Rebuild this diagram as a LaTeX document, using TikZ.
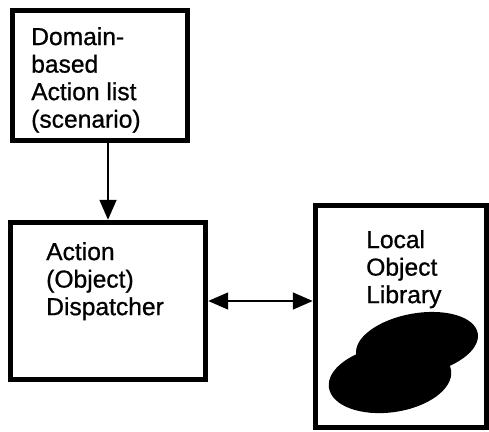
\documentclass[tikz,border=0pt]{standalone}
\usepackage{fontspec}
\setmainfont{Liberation Sans}[FakeBold=0.8]
\usetikzlibrary{arrows.meta}
\begin{document}
\begin{tikzpicture}[x=0.03cm, y=-0.03cm,
        box/.style={draw, line width=0.16cm, inner sep=0pt},
        txt/.style={anchor=north west, align=left, inner sep=0pt, font=\fontsize{21}{23.5}\selectfont},
        link/.style={line width=0.075cm, -{Triangle[length=0.6cm, width=0.5cm]}}]
        \useasboundingbox (0,0) rectangle (489,432);
        % scenario, dispatcher and object library
        \node[box, minimum width=5.25cm, minimum height=3.9cm] (scen) at (100,75.5) {};
        \node[txt] (scentxt) at (31,27) {Domain-\\based\\Action list\\(scenario)};
        \node[box, minimum width=5.85cm, minimum height=4.71cm] (disp) at (108,301) {};
        \node[txt] (disptxt) at (46,242) {Action\\(Object)\\Dispatcher};
        \node[box, minimum width=5.13cm, minimum height=6.66cm] (lib) at (401,316.5) {};
        \node[txt] (libtxt) at (366,230) {Local\\Object\\Library};
        % objects kept in the library
        \fill[rotate around={10:(417,344)}] (417,344) ellipse [x radius=1.85cm, y radius=0.92cm];
        \fill[rotate around={8:(390,379)}] (390,379) ellipse [x radius=1.85cm, y radius=1.0cm];
        \draw[link] (scen.south -| disp.north) -- (disp.north);
        \draw[link, {Triangle[length=0.6cm, width=0.5cm]}-{Triangle[length=0.6cm, width=0.5cm]}] (disp.east) -- (lib.west |- disp.east);
    \end{tikzpicture}
\end{document}
